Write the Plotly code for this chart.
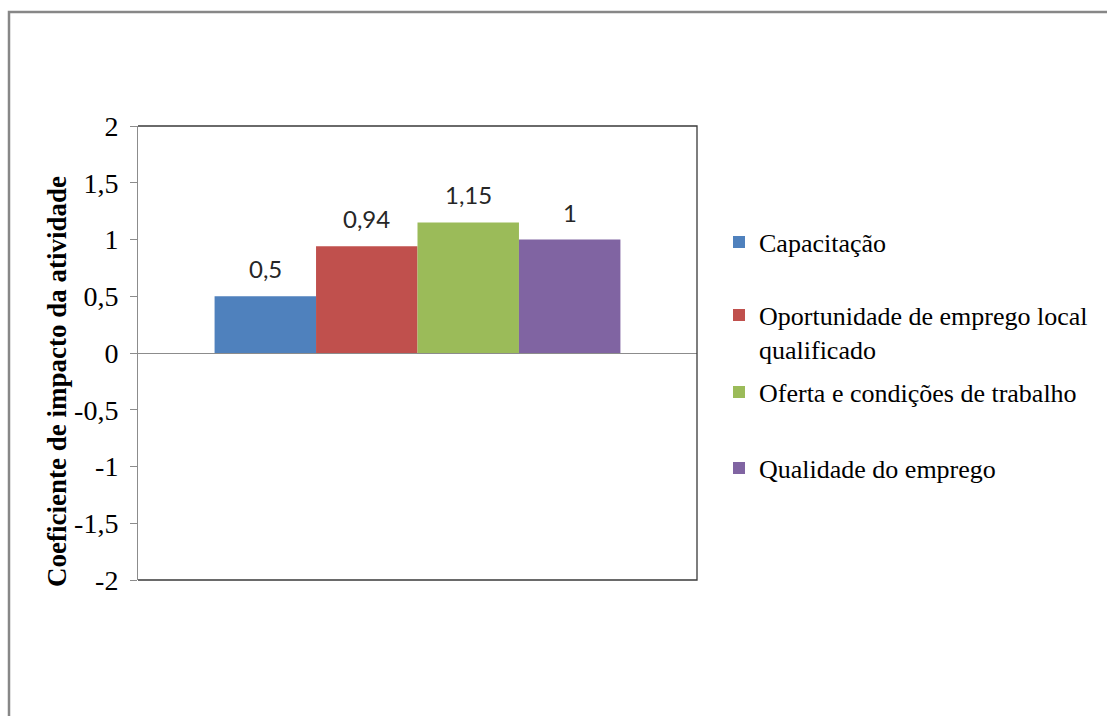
import plotly.graph_objects as go

# Impact coefficients per indicator
series_names = [
    "Capacitação",
    "Oportunidade de emprego local<br>qualificado",
    "Oferta e condições de trabalho",
    "Qualidade do emprego",
]
values = [0.5, 0.94, 1.15, 1.0]
colors = ["#4F81BD", "#C0504D", "#9BBB59", "#8064A2"]

y_tick_values = [-2, -1.5, -1, -0.5, 0, 0.5, 1, 1.5, 2]
y_tick_labels = ["-2", "-1,5", "-1", "-0,5", "0", "0,5", "1", "1,5", "2"]
y_title = "Coeficiente de impacto da atividade"

W, H = 1107, 716
L, R, T, B = 138, 697, 126, 580  # plot area in pixels
pw, ph = R - L, B - T


def px_x(px):
    return (px - L) / pw


def px_y(py):
    return (B - py) / ph


SERIF = "Liberation Serif"
SANS = "Lato"

group_width = 0.726
bar_w = group_width / len(values)

# legend symbol centre rows (pixels from top)
legend_rows = [242, 332, 392, 468]
legend_ids = ["legend", "legend2", "legend3", "legend4"]

fig = go.Figure()
annotations = []
for i, (name, v, c) in enumerate(zip(series_names, values, colors)):
    off = -group_width / 2 + i * bar_w
    fig.add_trace(go.Bar(
        x=[0], y=[v], name=name,
        width=bar_w, offset=off,
        marker=dict(color=c, line=dict(width=0)),
        legend=legend_ids[i],
        hoverinfo="skip",
    ))
    annotations.append(dict(
        x=off + bar_w / 2, y=v, xref="x", yref="y",
        text=f"{v:g}".replace(".", ","),
        showarrow=False, yanchor="bottom", yshift=11,
        font=dict(family=SANS, size=24, color="#262626"),
    ))

annotations.append(dict(
    x=px_x(57), y=px_y(382), xref="paper", yref="paper",
    text=f"<b>{y_title}</b>", textangle=-90, showarrow=False,
    xanchor="center", yanchor="middle",
    font=dict(family=SERIF, size=27, color="#000000"),
))

layout_legends = {}
for i, lid in enumerate(legend_ids):
    layout_legends[lid] = dict(
        x=719 / W, xref="container", xanchor="left",
        y=1 - legend_rows[i] / H, yref="container", yanchor="middle",
        font=dict(family=SERIF, size=26, color="#000000"),
        bgcolor="rgba(0,0,0,0)", itemwidth=30, valign="top",
        itemclick=False, itemdoubleclick=False,
    )

shapes = [
    # frame around the chart
    dict(type="path", xref="paper", yref="paper",
         path=f"M {px_x(9)},{px_y(760)} L {px_x(9)},{px_y(12)} L {px_x(1200)},{px_y(12)}",
         line=dict(color="#878787", width=2.5)),
    # plot-area border (top, right, bottom)
    dict(type="path", xref="paper", yref="paper",
         path="M 0,1 L 1,1 L 1,0 L 0,0",
         line=dict(color="#3a3a3a", width=1.3)),
]

fig.update_layout(
    width=W, height=H,
    margin=dict(l=L, r=W - R, t=T, b=H - B),
    paper_bgcolor="white", plot_bgcolor="white",
    font=dict(family=SERIF, size=25, color="#000000"),
    separators=",.",
    barmode="group",
    showlegend=True,
    annotations=annotations,
    shapes=shapes,
    xaxis=dict(range=[-0.5, 0.5], showticklabels=False, showgrid=False,
               zeroline=False, showline=False, ticks=""),
    yaxis=dict(range=[-2, 2], tickmode="array",
               tickvals=y_tick_values, ticktext=y_tick_labels,
               showgrid=False, zeroline=True, zerolinecolor="#8c8c8c", zerolinewidth=1.3,
               showline=True, linecolor="#8c8c8c", linewidth=1,
               ticks="outside", ticklen=7, tickcolor="#8c8c8c", tickwidth=1,
               automargin=False, ticklabelstandoff=6,
               tickfont=dict(family=SERIF, size=28, color="#000000")),
    **layout_legends,
)

fig.write_html("out.html")
